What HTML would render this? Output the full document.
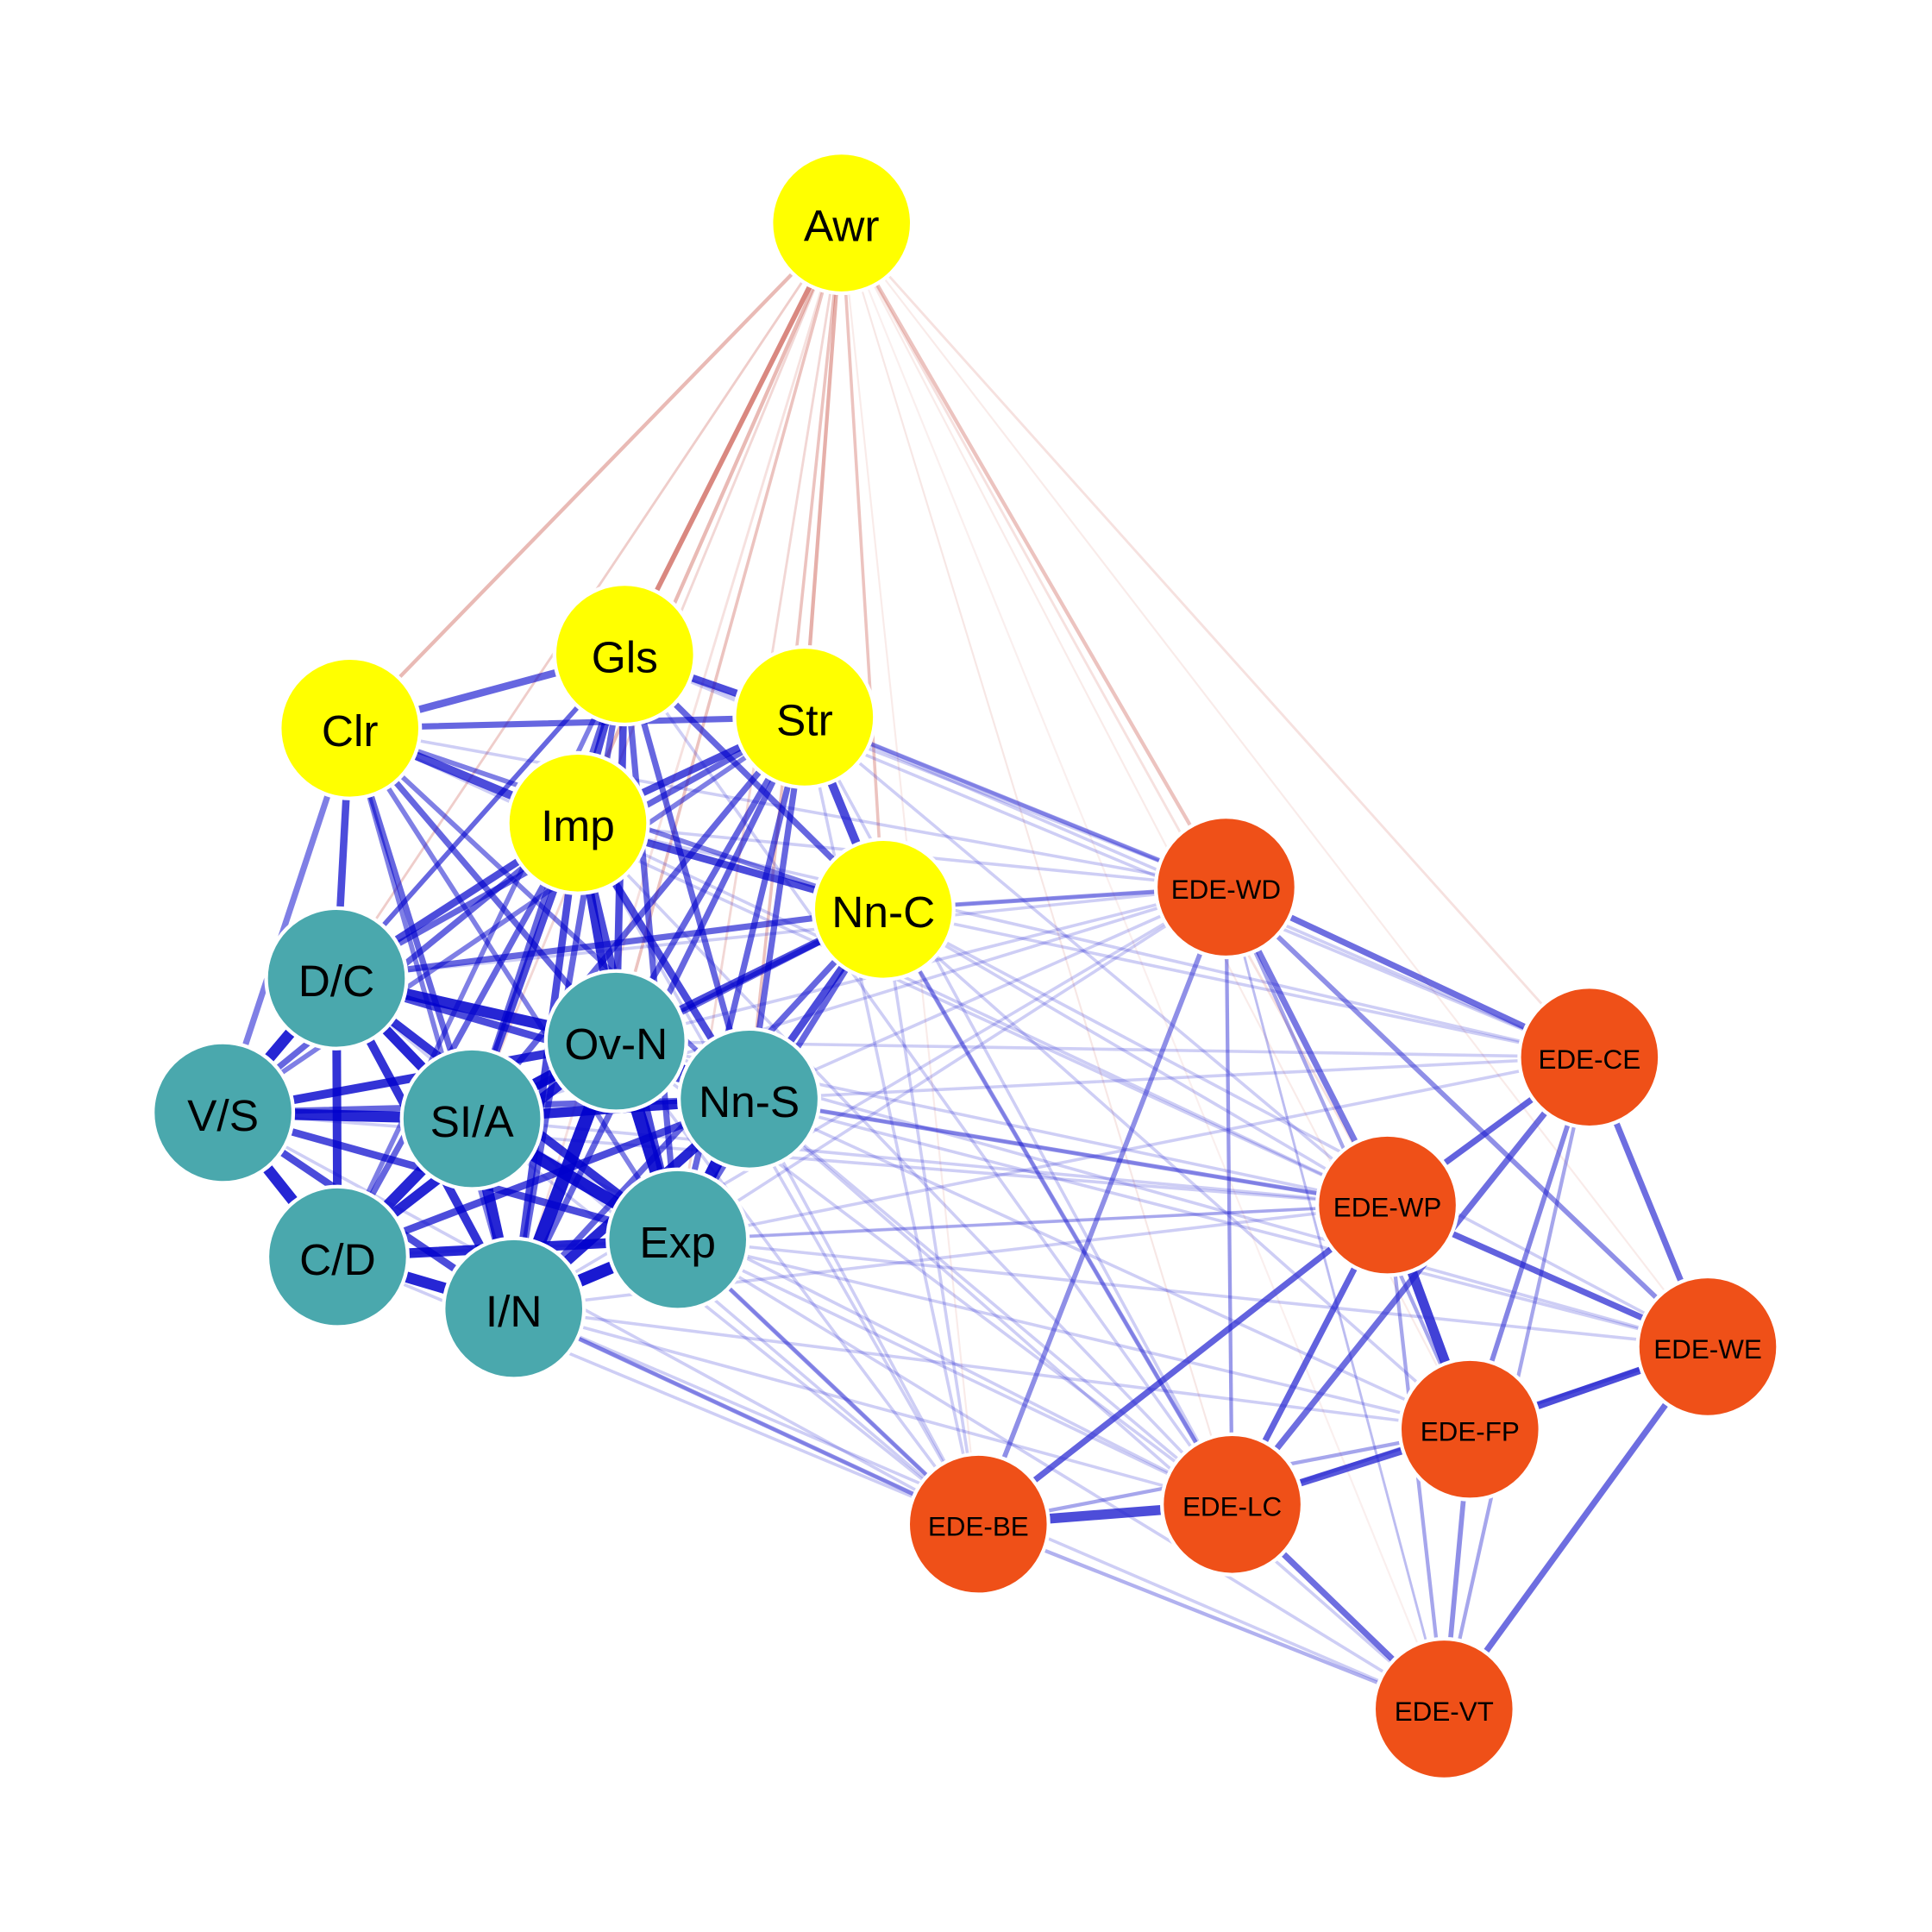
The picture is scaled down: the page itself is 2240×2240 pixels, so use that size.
<!DOCTYPE html>
<html><head><meta charset="utf-8"><style>
html,body{margin:0;padding:0;background:#fff;}
svg{display:block;}
text{font-family:"Liberation Sans",Arial,sans-serif;text-anchor:middle;dominant-baseline:central;fill:#000;}
</style></head><body>
<svg width="2240" height="2240" viewBox="0 0 1568 1568" xmlns="http://www.w3.org/2000/svg">
<g stroke="#c0392b" stroke-linecap="round">
<line x1="683" y1="181" x2="507" y2="531" stroke-width="4" stroke-opacity="0.6"/>
<line x1="683" y1="181" x2="284" y2="591" stroke-width="3" stroke-opacity="0.35"/>
<line x1="683" y1="181" x2="653" y2="582" stroke-width="3" stroke-opacity="0.4"/>
<line x1="683" y1="181" x2="469" y2="668" stroke-width="3" stroke-opacity="0.35"/>
<line x1="683" y1="181" x2="717" y2="738" stroke-width="2.5" stroke-opacity="0.3"/>
<line x1="683" y1="181" x2="273" y2="794" stroke-width="2" stroke-opacity="0.25"/>
<line x1="683" y1="181" x2="500" y2="845" stroke-width="2.5" stroke-opacity="0.3"/>
<line x1="683" y1="181" x2="383" y2="908" stroke-width="2" stroke-opacity="0.2"/>
<line x1="683" y1="181" x2="608" y2="892" stroke-width="2.5" stroke-opacity="0.3"/>
<line x1="683" y1="181" x2="550" y2="1006" stroke-width="2" stroke-opacity="0.2"/>
<line x1="683" y1="181" x2="417" y2="1062" stroke-width="2" stroke-opacity="0.15"/>
<line x1="683" y1="181" x2="995" y2="720" stroke-width="3" stroke-opacity="0.3"/>
<line x1="683" y1="181" x2="1290" y2="858" stroke-width="2" stroke-opacity="0.15"/>
<line x1="683" y1="181" x2="1126" y2="978" stroke-width="2" stroke-opacity="0.15"/>
<line x1="683" y1="181" x2="1386" y2="1093" stroke-width="1.5" stroke-opacity="0.1"/>
<line x1="683" y1="181" x2="1193" y2="1160" stroke-width="1.5" stroke-opacity="0.1"/>
<line x1="683" y1="181" x2="1000" y2="1221" stroke-width="1.5" stroke-opacity="0.12"/>
<line x1="683" y1="181" x2="794" y2="1237" stroke-width="1.5" stroke-opacity="0.1"/>
<line x1="683" y1="181" x2="1172" y2="1387" stroke-width="1.5" stroke-opacity="0.08"/>
</g>
<g stroke="#2020d0" stroke-opacity="0.22" stroke-width="2.5">
<line x1="653" y1="582" x2="995" y2="720"/><line x1="653" y1="582" x2="1290" y2="858"/><line x1="653" y1="582" x2="1126" y2="978"/><line x1="653" y1="582" x2="1000" y2="1221"/><line x1="653" y1="582" x2="794" y2="1237"/>
<line x1="717" y1="738" x2="995" y2="720"/><line x1="717" y1="738" x2="1290" y2="858"/><line x1="717" y1="738" x2="1126" y2="978"/><line x1="717" y1="738" x2="1386" y2="1093"/><line x1="717" y1="738" x2="1193" y2="1160"/><line x1="717" y1="738" x2="1000" y2="1221"/><line x1="717" y1="738" x2="794" y2="1237"/>
<line x1="608" y1="892" x2="995" y2="720"/><line x1="608" y1="892" x2="1290" y2="858"/><line x1="608" y1="892" x2="1126" y2="978"/><line x1="608" y1="892" x2="1386" y2="1093"/><line x1="608" y1="892" x2="1193" y2="1160"/><line x1="608" y1="892" x2="1000" y2="1221"/><line x1="608" y1="892" x2="794" y2="1237"/><line x1="608" y1="892" x2="1172" y2="1387"/>
<line x1="550" y1="1006" x2="995" y2="720"/><line x1="550" y1="1006" x2="1290" y2="858"/><line x1="550" y1="1006" x2="1126" y2="978"/><line x1="550" y1="1006" x2="1386" y2="1093"/><line x1="550" y1="1006" x2="1193" y2="1160"/><line x1="550" y1="1006" x2="1000" y2="1221"/><line x1="550" y1="1006" x2="794" y2="1237"/><line x1="550" y1="1006" x2="1172" y2="1387"/>
<line x1="417" y1="1062" x2="995" y2="720"/><line x1="417" y1="1062" x2="1126" y2="978"/><line x1="417" y1="1062" x2="1000" y2="1221"/><line x1="417" y1="1062" x2="794" y2="1237"/><line x1="417" y1="1062" x2="1172" y2="1387"/><line x1="417" y1="1062" x2="1193" y2="1160"/>
<line x1="500" y1="845" x2="995" y2="720"/><line x1="500" y1="845" x2="1290" y2="858"/><line x1="500" y1="845" x2="1126" y2="978"/><line x1="500" y1="845" x2="1000" y2="1221"/><line x1="500" y1="845" x2="794" y2="1237"/><line x1="500" y1="845" x2="1386" y2="1093"/>
<line x1="469" y1="668" x2="995" y2="720"/><line x1="469" y1="668" x2="1290" y2="858"/><line x1="469" y1="668" x2="1126" y2="978"/><line x1="469" y1="668" x2="794" y2="1237"/><line x1="469" y1="668" x2="1000" y2="1221"/>
<line x1="383" y1="908" x2="995" y2="720"/><line x1="383" y1="908" x2="1126" y2="978"/><line x1="383" y1="908" x2="794" y2="1237"/><line x1="383" y1="908" x2="1000" y2="1221"/>
<line x1="273" y1="794" x2="995" y2="720"/><line x1="273" y1="794" x2="794" y2="1237"/><line x1="274" y1="1020" x2="794" y2="1237"/><line x1="274" y1="1020" x2="1126" y2="978"/>
<line x1="507" y1="531" x2="995" y2="720"/><line x1="507" y1="531" x2="1290" y2="858"/><line x1="507" y1="531" x2="1000" y2="1221"/><line x1="284" y1="591" x2="995" y2="720"/><line x1="284" y1="591" x2="1126" y2="978"/>
<line x1="181" y1="903" x2="794" y2="1237"/><line x1="181" y1="903" x2="1126" y2="978"/>
</g>
<g stroke="#2020d0" stroke-opacity="0.45" stroke-width="3.5">
<line x1="653" y1="582" x2="995" y2="720"/><line x1="717" y1="738" x2="995" y2="720"/><line x1="608" y1="892" x2="1126" y2="978"/><line x1="550" y1="1006" x2="794" y2="1237"/><line x1="417" y1="1062" x2="794" y2="1237"/><line x1="717" y1="738" x2="1000" y2="1221"/>
</g>
<g stroke="#2020d0" stroke-linecap="round">
<line x1="995" y1="720" x2="1290" y2="858" stroke-width="5" stroke-opacity="0.65"/>
<line x1="995" y1="720" x2="1126" y2="978" stroke-width="5" stroke-opacity="0.6"/>
<line x1="995" y1="720" x2="1386" y2="1093" stroke-width="4" stroke-opacity="0.5"/>
<line x1="995" y1="720" x2="1193" y2="1160" stroke-width="3" stroke-opacity="0.4"/>
<line x1="995" y1="720" x2="1000" y2="1221" stroke-width="3" stroke-opacity="0.45"/>
<line x1="995" y1="720" x2="794" y2="1237" stroke-width="4" stroke-opacity="0.5"/>
<line x1="995" y1="720" x2="1172" y2="1387" stroke-width="2" stroke-opacity="0.3"/>
<line x1="1290" y1="858" x2="1126" y2="978" stroke-width="5" stroke-opacity="0.7"/>
<line x1="1290" y1="858" x2="1386" y2="1093" stroke-width="5" stroke-opacity="0.65"/>
<line x1="1290" y1="858" x2="1193" y2="1160" stroke-width="4" stroke-opacity="0.55"/>
<line x1="1290" y1="858" x2="1000" y2="1221" stroke-width="5" stroke-opacity="0.65"/>
<line x1="1290" y1="858" x2="1172" y2="1387" stroke-width="3" stroke-opacity="0.4"/>
<line x1="1126" y1="978" x2="1386" y2="1093" stroke-width="5" stroke-opacity="0.7"/>
<line x1="1126" y1="978" x2="1193" y2="1160" stroke-width="8" stroke-opacity="0.85"/>
<line x1="1126" y1="978" x2="1000" y2="1221" stroke-width="5" stroke-opacity="0.7"/>
<line x1="1126" y1="978" x2="794" y2="1237" stroke-width="5" stroke-opacity="0.7"/>
<line x1="1126" y1="978" x2="1172" y2="1387" stroke-width="3" stroke-opacity="0.4"/>
<line x1="1386" y1="1093" x2="1193" y2="1160" stroke-width="6" stroke-opacity="0.8"/>
<line x1="1386" y1="1093" x2="1000" y2="1221" stroke-width="3" stroke-opacity="0.4"/>
<line x1="1386" y1="1093" x2="1172" y2="1387" stroke-width="5" stroke-opacity="0.65"/>
<line x1="1193" y1="1160" x2="1000" y2="1221" stroke-width="6" stroke-opacity="0.75"/>
<line x1="1193" y1="1160" x2="794" y2="1237" stroke-width="3" stroke-opacity="0.4"/>
<line x1="1193" y1="1160" x2="1172" y2="1387" stroke-width="4" stroke-opacity="0.5"/>
<line x1="1000" y1="1221" x2="794" y2="1237" stroke-width="8" stroke-opacity="0.8"/>
<line x1="1000" y1="1221" x2="1172" y2="1387" stroke-width="5" stroke-opacity="0.65"/>
<line x1="794" y1="1237" x2="1172" y2="1387" stroke-width="3" stroke-opacity="0.35"/>
</g>
<g stroke="#0000cc" stroke-linecap="round">
<line x1="507" y1="531" x2="284" y2="591" stroke-width="6" stroke-opacity="0.6"/>
<line x1="507" y1="531" x2="653" y2="582" stroke-width="6" stroke-opacity="0.7"/>
<line x1="507" y1="531" x2="469" y2="668" stroke-width="6" stroke-opacity="0.7"/>
<line x1="507" y1="531" x2="717" y2="738" stroke-width="5" stroke-opacity="0.6"/>
<line x1="507" y1="531" x2="273" y2="794" stroke-width="4" stroke-opacity="0.6"/>
<line x1="507" y1="531" x2="500" y2="845" stroke-width="6" stroke-opacity="0.7"/>
<line x1="507" y1="531" x2="383" y2="908" stroke-width="5" stroke-opacity="0.6"/>
<line x1="507" y1="531" x2="608" y2="892" stroke-width="5" stroke-opacity="0.6"/>
<line x1="507" y1="531" x2="550" y2="1006" stroke-width="5" stroke-opacity="0.6"/>
<line x1="507" y1="531" x2="417" y2="1062" stroke-width="5" stroke-opacity="0.6"/>
<line x1="507" y1="531" x2="274" y2="1020" stroke-width="4" stroke-opacity="0.5"/>
<line x1="284" y1="591" x2="653" y2="582" stroke-width="5" stroke-opacity="0.6"/>
<line x1="284" y1="591" x2="469" y2="668" stroke-width="7" stroke-opacity="0.7"/>
<line x1="284" y1="591" x2="273" y2="794" stroke-width="6" stroke-opacity="0.7"/>
<line x1="284" y1="591" x2="181" y2="903" stroke-width="5" stroke-opacity="0.5"/>
<line x1="284" y1="591" x2="500" y2="845" stroke-width="5" stroke-opacity="0.6"/>
<line x1="284" y1="591" x2="383" y2="908" stroke-width="5" stroke-opacity="0.6"/>
<line x1="284" y1="591" x2="550" y2="1006" stroke-width="4" stroke-opacity="0.5"/>
<line x1="284" y1="591" x2="417" y2="1062" stroke-width="4" stroke-opacity="0.5"/>
<line x1="284" y1="591" x2="608" y2="892" stroke-width="4" stroke-opacity="0.5"/>
<line x1="284" y1="591" x2="717" y2="738" stroke-width="4" stroke-opacity="0.5"/>
<line x1="653" y1="582" x2="469" y2="668" stroke-width="6" stroke-opacity="0.7"/>
<line x1="653" y1="582" x2="717" y2="738" stroke-width="7" stroke-opacity="0.7"/>
<line x1="653" y1="582" x2="273" y2="794" stroke-width="5" stroke-opacity="0.6"/>
<line x1="653" y1="582" x2="500" y2="845" stroke-width="5" stroke-opacity="0.6"/>
<line x1="653" y1="582" x2="383" y2="908" stroke-width="5" stroke-opacity="0.6"/>
<line x1="653" y1="582" x2="608" y2="892" stroke-width="5" stroke-opacity="0.6"/>
<line x1="653" y1="582" x2="550" y2="1006" stroke-width="5" stroke-opacity="0.6"/>
<line x1="653" y1="582" x2="417" y2="1062" stroke-width="5" stroke-opacity="0.6"/>
<line x1="653" y1="582" x2="181" y2="903" stroke-width="4" stroke-opacity="0.5"/>
<line x1="469" y1="668" x2="717" y2="738" stroke-width="6" stroke-opacity="0.7"/>
<line x1="469" y1="668" x2="273" y2="794" stroke-width="6" stroke-opacity="0.7"/>
<line x1="469" y1="668" x2="500" y2="845" stroke-width="7" stroke-opacity="0.8"/>
<line x1="469" y1="668" x2="383" y2="908" stroke-width="6" stroke-opacity="0.7"/>
<line x1="469" y1="668" x2="608" y2="892" stroke-width="6" stroke-opacity="0.7"/>
<line x1="469" y1="668" x2="550" y2="1006" stroke-width="6" stroke-opacity="0.7"/>
<line x1="469" y1="668" x2="417" y2="1062" stroke-width="6" stroke-opacity="0.7"/>
<line x1="469" y1="668" x2="181" y2="903" stroke-width="5" stroke-opacity="0.6"/>
<line x1="469" y1="668" x2="274" y2="1020" stroke-width="5" stroke-opacity="0.6"/>
<line x1="717" y1="738" x2="273" y2="794" stroke-width="5" stroke-opacity="0.6"/>
<line x1="717" y1="738" x2="500" y2="845" stroke-width="6" stroke-opacity="0.7"/>
<line x1="717" y1="738" x2="608" y2="892" stroke-width="6" stroke-opacity="0.7"/>
<line x1="717" y1="738" x2="383" y2="908" stroke-width="5" stroke-opacity="0.6"/>
<line x1="717" y1="738" x2="550" y2="1006" stroke-width="5" stroke-opacity="0.6"/>
<line x1="717" y1="738" x2="417" y2="1062" stroke-width="5" stroke-opacity="0.6"/>
<line x1="273" y1="794" x2="181" y2="903" stroke-width="9" stroke-opacity="0.85"/>
<line x1="273" y1="794" x2="274" y2="1020" stroke-width="7" stroke-opacity="0.8"/>
<line x1="273" y1="794" x2="383" y2="908" stroke-width="8" stroke-opacity="0.85"/>
<line x1="273" y1="794" x2="500" y2="845" stroke-width="9" stroke-opacity="0.85"/>
<line x1="273" y1="794" x2="608" y2="892" stroke-width="6" stroke-opacity="0.7"/>
<line x1="273" y1="794" x2="550" y2="1006" stroke-width="7" stroke-opacity="0.8"/>
<line x1="273" y1="794" x2="417" y2="1062" stroke-width="7" stroke-opacity="0.8"/>
<line x1="181" y1="903" x2="383" y2="908" stroke-width="9" stroke-opacity="0.85"/>
<line x1="181" y1="903" x2="274" y2="1020" stroke-width="9" stroke-opacity="0.85"/>
<line x1="181" y1="903" x2="500" y2="845" stroke-width="7" stroke-opacity="0.8"/>
<line x1="181" y1="903" x2="417" y2="1062" stroke-width="6" stroke-opacity="0.7"/>
<line x1="181" y1="903" x2="550" y2="1006" stroke-width="6" stroke-opacity="0.7"/>
<line x1="181" y1="903" x2="608" y2="892" stroke-width="5" stroke-opacity="0.6"/>
<line x1="383" y1="908" x2="500" y2="845" stroke-width="10" stroke-opacity="0.9"/>
<line x1="383" y1="908" x2="608" y2="892" stroke-width="8" stroke-opacity="0.85"/>
<line x1="383" y1="908" x2="550" y2="1006" stroke-width="10" stroke-opacity="0.9"/>
<line x1="383" y1="908" x2="274" y2="1020" stroke-width="9" stroke-opacity="0.85"/>
<line x1="383" y1="908" x2="417" y2="1062" stroke-width="9" stroke-opacity="0.85"/>
<line x1="500" y1="845" x2="608" y2="892" stroke-width="9" stroke-opacity="0.85"/>
<line x1="500" y1="845" x2="550" y2="1006" stroke-width="11" stroke-opacity="0.9"/>
<line x1="500" y1="845" x2="417" y2="1062" stroke-width="11" stroke-opacity="0.9"/>
<line x1="500" y1="845" x2="274" y2="1020" stroke-width="8" stroke-opacity="0.85"/>
<line x1="608" y1="892" x2="550" y2="1006" stroke-width="10" stroke-opacity="0.9"/>
<line x1="608" y1="892" x2="417" y2="1062" stroke-width="8" stroke-opacity="0.85"/>
<line x1="608" y1="892" x2="274" y2="1020" stroke-width="6" stroke-opacity="0.7"/>
<line x1="550" y1="1006" x2="417" y2="1062" stroke-width="10" stroke-opacity="0.9"/>
<line x1="550" y1="1006" x2="274" y2="1020" stroke-width="8" stroke-opacity="0.85"/>
<line x1="274" y1="1020" x2="417" y2="1062" stroke-width="9" stroke-opacity="0.85"/>
</g>
<g stroke="#fff" stroke-width="3">
<circle cx="683" cy="181" r="57" fill="#ffff00"/>
<circle cx="507" cy="531" r="57" fill="#ffff00"/>
<circle cx="284" cy="591" r="57" fill="#ffff00"/>
<circle cx="653" cy="582" r="57" fill="#ffff00"/>
<circle cx="469" cy="668" r="57" fill="#ffff00"/>
<circle cx="717" cy="738" r="57" fill="#ffff00"/>
<circle cx="273" cy="794" r="57" fill="#4aa8ad"/>
<circle cx="181" cy="903" r="57" fill="#4aa8ad"/>
<circle cx="274" cy="1020" r="57" fill="#4aa8ad"/>
<circle cx="383" cy="908" r="57" fill="#4aa8ad"/>
<circle cx="417" cy="1062" r="57" fill="#4aa8ad"/>
<circle cx="550" cy="1006" r="57" fill="#4aa8ad"/>
<circle cx="608" cy="892" r="57" fill="#4aa8ad"/>
<circle cx="500" cy="845" r="57" fill="#4aa8ad"/>
<circle cx="995" cy="720" r="57" fill="#ef5018"/>
<circle cx="1290" cy="858" r="57" fill="#ef5018"/>
<circle cx="1126" cy="978" r="57" fill="#ef5018"/>
<circle cx="1386" cy="1093" r="57" fill="#ef5018"/>
<circle cx="1193" cy="1160" r="57" fill="#ef5018"/>
<circle cx="1000" cy="1221" r="57" fill="#ef5018"/>
<circle cx="794" cy="1237" r="57" fill="#ef5018"/>
<circle cx="1172" cy="1387" r="57" fill="#ef5018"/>
</g>
<g font-size="36">
<text x="683" y="183">Awr</text>
<text x="507" y="533">Gls</text>
<text x="284" y="593">Clr</text>
<text x="653" y="584">Str</text>
<text x="469" y="670">Imp</text>
<text x="717" y="740">Nn-C</text>
<text x="273" y="796">D/C</text>
<text x="181" y="905">V/S</text>
<text x="274" y="1022">C/D</text>
<text x="383" y="910">SI/A</text>
<text x="417" y="1064">I/N</text>
<text x="550" y="1008">Exp</text>
<text x="608" y="894">Nn-S</text>
<text x="500" y="847">Ov-N</text>
</g>
<g font-size="22">
<text x="995" y="722">EDE-WD</text>
<text x="1290" y="860">EDE-CE</text>
<text x="1126" y="980">EDE-WP</text>
<text x="1386" y="1095">EDE-WE</text>
<text x="1193" y="1162">EDE-FP</text>
<text x="1000" y="1223">EDE-LC</text>
<text x="794" y="1239">EDE-BE</text>
<text x="1172" y="1389">EDE-VT</text>
</g>
</svg>
</body></html>
